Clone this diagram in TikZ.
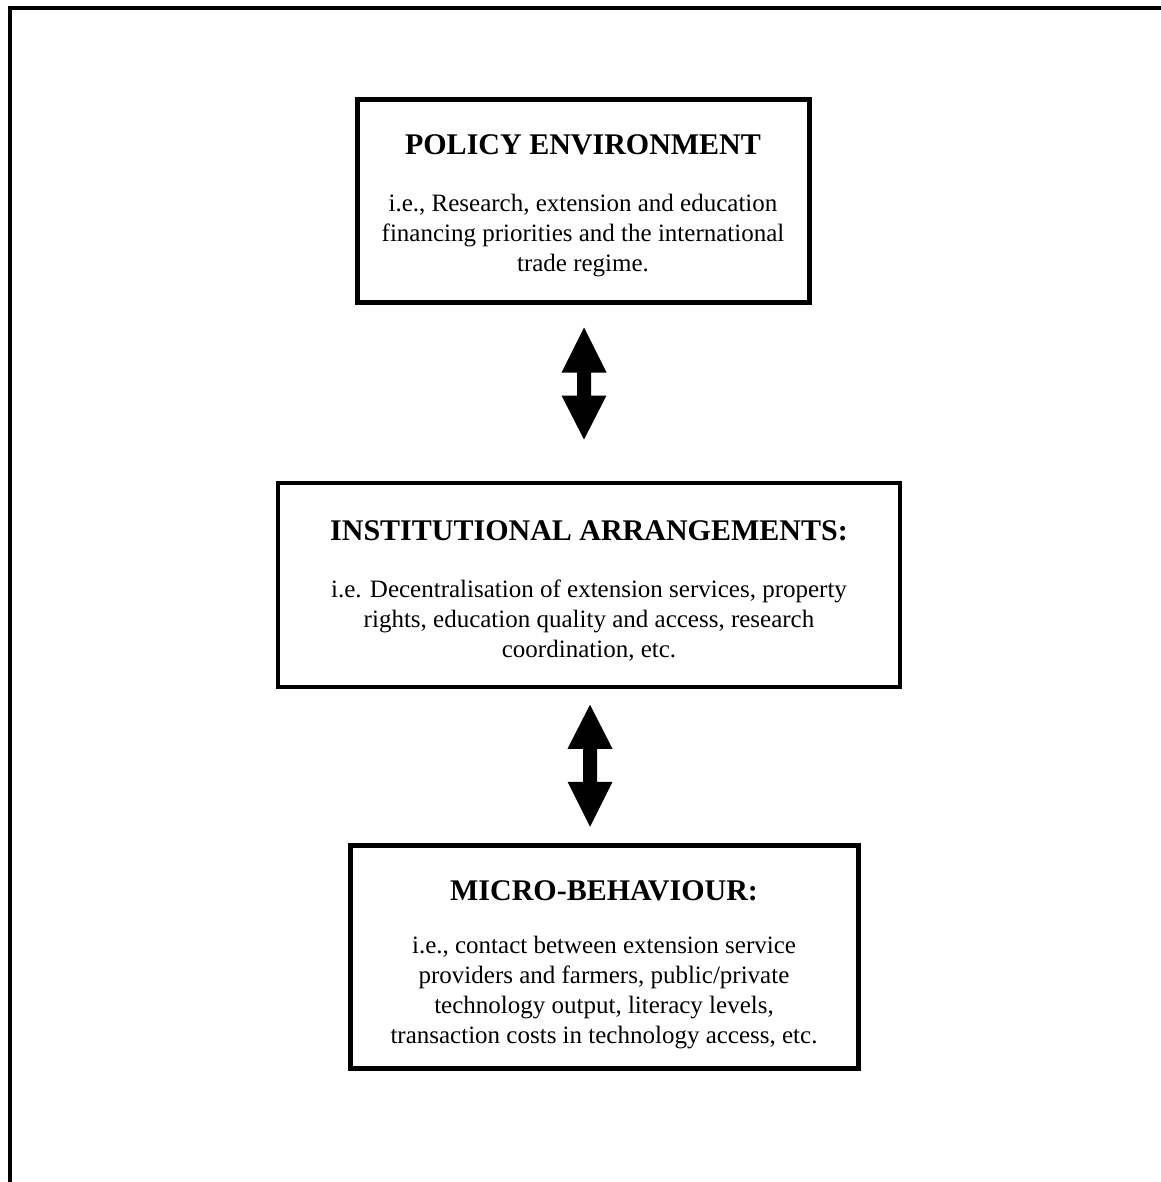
\documentclass[tikz,border=0pt]{standalone}
\usepackage{fontspec}
\setmainfont{Liberation Serif}
\usetikzlibrary{calc}
\begin{document}
\begin{tikzpicture}[x=1pt,y=-1pt,
  box/.style={draw=black,fill=none,inner sep=0pt},
  thickbox/.style={box,line width=5pt},
  thinbox/.style={box,line width=3.5pt},
  title/.style={font=\fontsize{30}{34}\selectfont\bfseries,inner sep=0pt,anchor=base},
  body/.style={font=\fontsize{25}{30}\selectfont,align=center,inner sep=0pt,anchor=north},
  frameline/.style={line width=4pt}]
\useasboundingbox (0,0) rectangle (1160,1182);
% outer frame (only top and left edges visible)
\coordinate (ftl) at (10,8);
\coordinate (ftr) at (1162,8);
\coordinate (fbl) at (10,1184);
\draw[frameline] (ftr) -- (ftl) -- (fbl);
% boxes
\node[thickbox,minimum width=452pt,minimum height=202pt] (b1) at (583,201) {};
\node[thinbox,minimum width=622pt,minimum height=204pt] (b2) at (589,585) {};
\node[thickbox,minimum width=508pt,minimum height=223pt] (b3) at (604,956.5) {};
% texts
\node[title] (t1) at (583,155) {POLICY ENVIRONMENT};
\node[body] (d1) at (583,194) {i.e., Research, extension and education\\financing priorities and the international\\trade regime.};
\node[title] (t2) at (589,540) {INSTITUTIONAL ARRANGEMENTS:};
\node[body] (d2) at (589,580) {i.e. Decentralisation of extension services, property\\rights, education quality and access, research\\coordination, etc.};
\node[title] (t3) at (604,900) {MICRO-BEHAVIOUR:};
\node[body] (d3) at (604,936) {i.e., contact between extension service\\providers and farmers, public/private\\technology output, literacy levels,\\transaction costs in technology access, etc.};
% double arrows
\coordinate (a1t) at ($(b1.south)+(1,23)$);
\coordinate (a1b) at ($(b1.south)+(1,135)$);
\coordinate (a2t) at ($(b2.south)+(1,16)$);
\coordinate (a2b) at ($(b2.south)+(1,138)$);
\fill (a1t) -- ++(22.5,45) -- ++(-15.5,0) |- ($(a1b)+(7,-44)$) -- ++(15.5,0) -- (a1b)
  -- ++(-22.5,-44) -- ++(15.5,0) |- ($(a1t)+(-7,45)$) -- ++(-15.5,0) -- cycle;
\fill (a2t) -- ++(22.5,44) -- ++(-15.5,0) |- ($(a2b)+(7,-45)$) -- ++(15.5,0) -- (a2b)
  -- ++(-22.5,-45) -- ++(15.5,0) |- ($(a2t)+(-7,44)$) -- ++(-15.5,0) -- cycle;
\end{tikzpicture}
\end{document}
